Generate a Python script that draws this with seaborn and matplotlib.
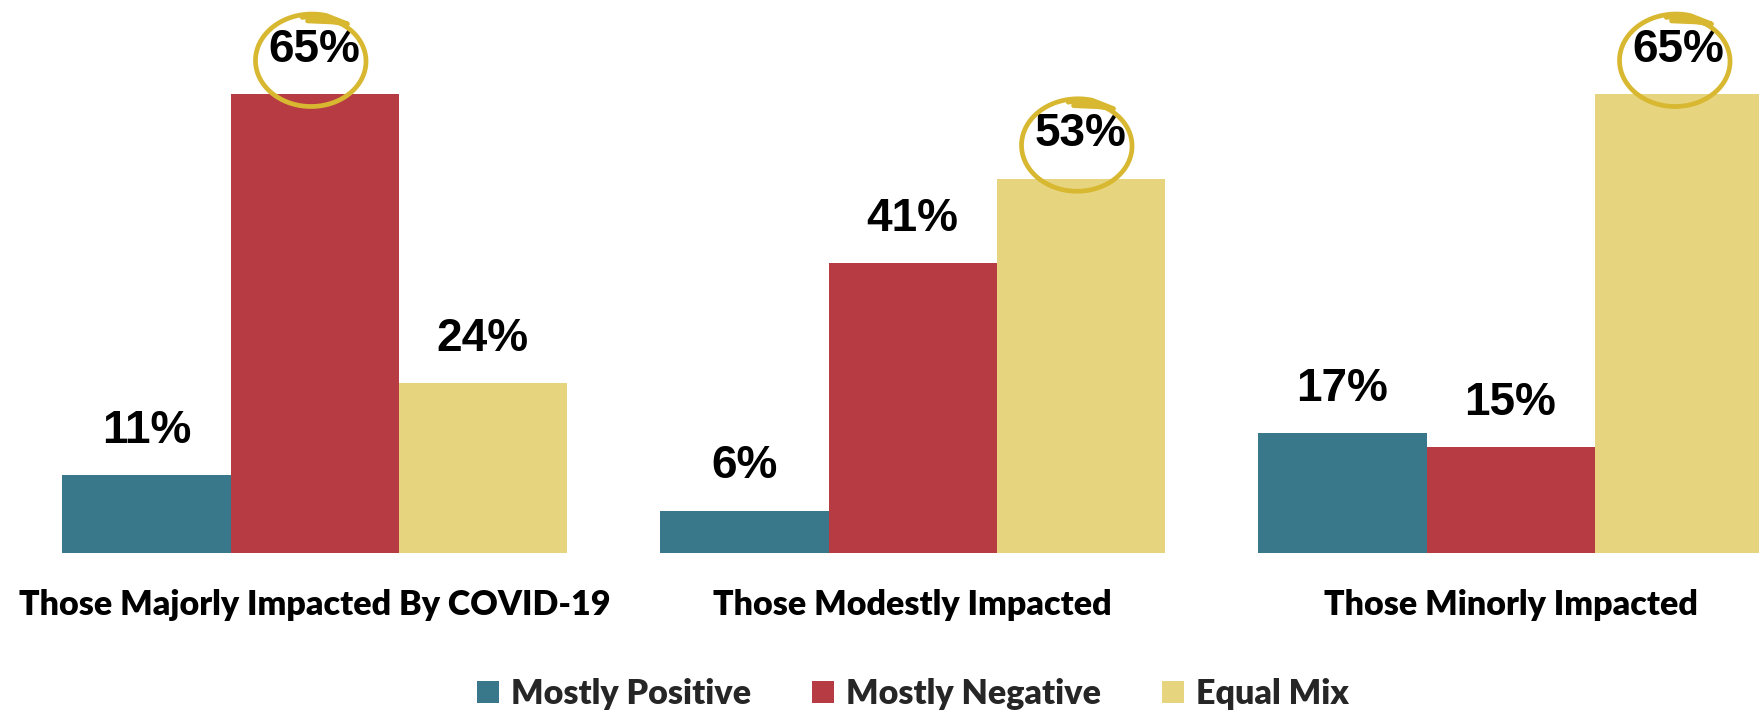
import numpy as np
import pandas as pd
import matplotlib
matplotlib.use("Agg")
import matplotlib.pyplot as plt
import matplotlib.transforms as mtransforms
from matplotlib.lines import Line2D
import seaborn as sns

# 데이터
groups = ["Those Majorly Impacted By COVID-19", "Those Modestly Impacted", "Those Minorly Impacted"]
series = ["Mostly Positive", "Mostly Negative", "Equal Mix"]
mostly_positive = [11, 6, 17]
mostly_negative = [65, 41, 15]
equal_mix = [24, 53, 65]
colors = ["#38788A", "#B73B42", "#E7D47F"]
circle_color = "#D8B830"

df = pd.DataFrame({
    "group": groups * 3,
    "series": np.repeat(series, 3),
    "value": mostly_positive + mostly_negative + equal_mix,
})

sns.set_style("white")
plt.rcParams["font.family"] = ["Lato", "DejaVu Sans"]

fig = plt.figure(figsize=(17.59, 7.14), dpi=100)
ax = fig.add_axes([0, 0.2255, 1, 0.7745])

sns.barplot(data=df, x="group", y="value", hue="series", palette=colors,
            saturation=1, width=0.843, linewidth=0, ax=ax)

ax.set_xlim(-0.526, 2.4155)
ax.set_ylim(0, 78.3)
for s in ax.spines.values():
    s.set_visible(False)
ax.set_yticks([])
ax.set_xlabel("")
ax.set_ylabel("")
ax.tick_params(axis="x", length=0, pad=26)
for lab in ax.get_xticklabels():
    lab.set_fontsize(24.5)
    lab.set_fontweight("heavy")
    lab.set_color("black")

# 값 라벨
for cont in ax.containers:
    vals = [int(round(b.get_height())) for b in cont]
    ax.bar_label(cont, labels=[f"{v}%" for v in vals], padding=16,
                 fontsize=33, fontweight="bold", family="Liberation Sans", color="black")

# 범례
handles, labels = ax.get_legend_handles_labels()
ax.get_legend().remove()
fig.legend(handles, labels, loc="center", bbox_to_anchor=(0.519, 0.028), ncol=3,
           frameon=False, handlelength=0.65, handleheight=0.65, handletextpad=0.35,
           columnspacing=1.8, prop={"family": "Lato", "weight": "heavy", "size": 24.5})

# 각 그룹 최대값에 손으로 그린 듯한 동그라미
bars_by_group = list(zip(*[list(c) for c in ax.containers]))
for gbars in bars_by_group:
    top = max(gbars, key=lambda b: b.get_height())
    bx = top.get_x() + top.get_width() / 2
    px, py = ax.transData.transform((bx, top.get_height()))
    cx, cy = px - 3, py + 33
    rx, ry = 57, 47
    t = np.linspace(np.deg2rad(75), np.deg2rad(75 + 385), 200)
    shrink = 1 - 0.06 * (t - t[0]) / (t[-1] - t[0])
    xs = cx + rx * shrink * np.cos(t)
    ys = cy + ry * shrink * np.sin(t)
    # 위쪽 꼬리
    tail_x = np.array([cx - 4, cx + 20, cx + 36])
    tail_y = np.array([cy + 40, cy + 39, cy + 37])
    xs = np.concatenate([tail_x, xs])
    ys = np.concatenate([tail_y, ys])
    fig.add_artist(Line2D(xs, ys, transform=mtransforms.IdentityTransform(),
                          color=circle_color, lw=3.4, solid_capstyle="round",
                          solid_joinstyle="round"))

fig.savefig("out.png", dpi=100)
